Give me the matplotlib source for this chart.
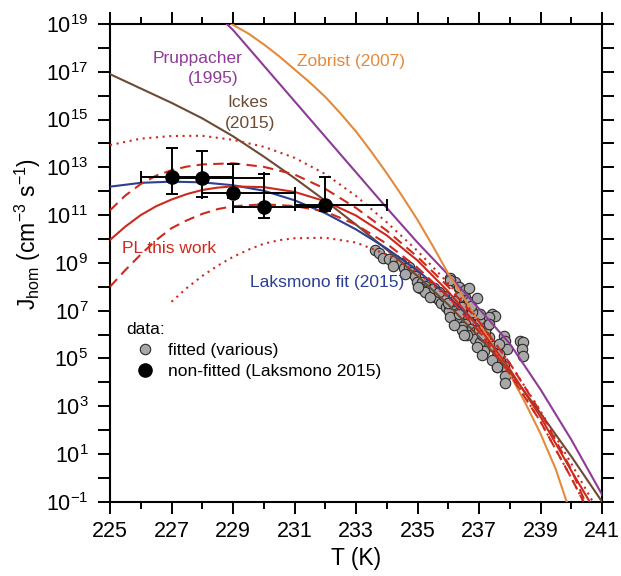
#!/usr/bin/env python3
"""
Homogeneous ice nucleation rate J_hom vs temperature:
parameterisations (Pruppacher, Zobrist, Ickes, Laksmono fit, PL this work)
together with fitted and non-fitted laboratory data.
"""

import numpy as np
import matplotlib
matplotlib.use('Agg')
import matplotlib.pyplot as plt
from matplotlib.lines import Line2D
from matplotlib.ticker import NullLocator

plt.rcParams['font.family'] = ['Liberation Sans', 'DejaVu Sans']
plt.rcParams['mathtext.fontset'] = 'custom'
plt.rcParams['mathtext.rm'] = 'Liberation Sans'
plt.rcParams['mathtext.it'] = 'Liberation Sans:italic'
plt.rcParams['mathtext.bf'] = 'Liberation Sans:bold'

# Curves: temperature (K) and log10 of J_hom (cm-3 s-1)
PRUP_T = [228.8, 229, 230, 231, 232, 233, 234, 235, 236, 237, 238, 239, 240, 241]
PRUP_LOGJ = [19.0, 18.75, 17.26, 15.77, 14.28, 12.79, 11.3, 9.85, 8.5, 7.08,
             5.62, 3.7, 1.6, -0.7]

ZOB_T = [228.95, 229.5, 230, 230.5, 231, 231.5, 232, 232.5, 233, 233.5, 234,
         234.5, 235, 235.5, 236, 236.5, 237, 237.5, 238, 238.5, 239, 239.5,
         239.85, 240.1]
ZOB_LOGJ = [19.0, 18.6, 18.15, 17.65, 17.1, 16.55, 15.95, 15.25, 14.5, 13.65,
            12.75, 11.8, 10.8, 9.7, 8.55, 7.55, 6.5, 5.43, 4.35, 3.15, 1.85,
            0.35, -1.0, -2.0]

ICKES_T = [225, 226, 227, 228, 229, 230, 231, 232, 233, 234, 235, 236, 237,
           238, 239, 240, 241]
ICKES_LOGJ = [16.9, 16.3, 15.7, 15.05, 14.3, 13.45, 12.55, 11.6, 10.6, 9.55,
              8.45, 7.25, 5.9, 4.45, 2.7, 0.9, -1.0]

LAKS_T = [225, 226, 227, 228, 229, 230, 231, 232, 233, 234, 235, 236, 237]
LAKS_LOGJ = [12.19, 12.35, 12.4, 12.37, 12.25, 12.02, 11.62, 11.08, 10.4, 9.6,
             8.68, 7.6, 6.35]

PL_T = [225, 225.5, 226, 226.5, 227, 227.5, 228, 228.5, 229, 230, 231, 232,
        233, 234, 235, 236, 237, 238, 239, 240, 240.6]
PL_LOGJ = [9.96, 10.52, 11.0, 11.37, 11.65, 11.88, 12.05, 12.15, 12.2, 12.17,
           11.97, 11.58, 10.98, 10.15, 9.1, 7.8, 6.3, 4.55, 2.55, 0.3, -1.0]

PL_DASH_HI_T = [225, 225.5, 226, 226.5, 227, 227.5, 228, 229, 230, 231, 232,
                233, 234, 235, 236, 237, 238, 239, 240, 240.45]
PL_DASH_HI_LOGJ = [11.2, 11.82, 12.3, 12.65, 12.88, 13.03, 13.12, 13.17, 13.02,
                   12.7, 12.1, 11.3, 10.35, 9.25, 8.0, 6.55, 4.8, 2.75, 0.35,
                   -1.0]

PL_DASH_LO_T = [225, 225.5, 226, 226.5, 227, 227.5, 228, 228.5, 229, 230, 231,
                232, 233, 234, 235, 236, 237, 238, 239, 240, 240.4]
PL_DASH_LO_LOGJ = [8.0, 8.7, 9.35, 9.95, 10.45, 10.78, 11.05, 11.25, 11.37,
                   11.45, 11.38, 11.15, 10.6, 9.8, 8.8, 7.58, 6.12, 4.35, 2.35,
                   0.0, -1.0]

PL_DOT_HI_T = [225, 226, 227, 228, 229, 230, 231, 232, 233, 234, 235, 236,
               237, 238, 239, 240, 240.7]
PL_DOT_HI_LOGJ = [13.93, 14.2, 14.31, 14.32, 14.15, 13.86, 13.4, 12.72, 11.8,
                  10.7, 9.5, 8.15, 6.6, 4.8, 2.8, 0.6, -1.0]

PL_DOT_LO_T = [227, 227.5, 228, 228.5, 229, 229.5, 230, 230.5, 231, 232, 233,
               234, 235, 236, 237, 238, 239, 240, 240.4]
PL_DOT_LO_LOGJ = [7.37, 7.95, 8.45, 8.88, 9.25, 9.55, 9.8, 9.95, 10.03, 10.05,
                  9.85, 9.35, 8.6, 7.55, 6.15, 4.4, 2.35, 0.0, -1.0]

# Fitted data (various sources)
FIT_T = [233.62, 233.74, 233.87, 234.07, 234.26, 234.45, 234.55, 234.72,
         234.82, 234.93, 234.98, 235.15, 235.26, 235.36, 235.47, 235.58,
         235.69, 235.78, 235.93, 235.09, 235.26, 235.42, 236.07, 236.23,
         236.34, 236.45, 236.55, 236.66, 236.34, 236.12, 236.28, 236.45,
         236.61, 236.82, 236.93, 236.01, 236.07, 236.34, 236.55, 236.66,
         236.93, 236.01, 236.17, 236.44, 236.34, 236.55, 236.71, 236.44,
         236.88, 237.04, 237.26, 237.42, 237.53, 237.31, 236.88, 237.04,
         237.15, 237.31, 237.47, 237.58, 237.69, 237.80, 237.85, 237.91,
         237.80, 237.85, 238.33, 238.44, 238.39, 238.44, 237.58, 237.64,
         237.20, 237.31, 237.04, 236.77, 236.07, 236.45, 236.61, 236.93,
         237.09, 237.42, 237.58, 237.85, 234.2, 234.6, 235.0, 235.55,
         235.85, 236.2, 236.75, 236.2, 236.5, 237.0, 237.2, 235.7,
         236.0, 236.35, 237.1, 237.65]
FIT_LOGJ = [9.54, 9.40, 9.22, 9.16, 9.12, 8.98, 8.77, 8.84,
            8.63, 8.46, 8.21, 8.21, 8.04, 7.86, 7.76, 7.58,
            7.44, 7.30, 7.16, 7.93, 7.79, 7.58, 8.35, 8.21,
            7.93, 7.72, 7.58, 7.37, 7.58, 6.81, 6.67, 6.95,
            6.67, 6.60, 6.81, 7.02, 8.28, 8.00, 7.86, 7.93,
            7.51, 7.00, 7.28, 7.14, 6.58, 6.44, 6.23, 6.30,
            6.09, 6.58, 6.37, 6.86, 6.79, 6.72, 5.81, 5.67,
            5.32, 5.88, 5.53, 5.11, 4.90, 5.95, 5.74, 5.39,
            4.69, 4.27, 5.74, 5.67, 5.39, 5.11, 4.62, 5.18,
            6.16, 6.44, 6.86, 6.93, 6.75, 6.19, 5.98, 5.49,
            5.14, 4.93, 4.65, 3.96, 8.85, 8.55, 8.0, 7.95,
            7.6, 7.4, 7.2, 6.4, 6.0, 6.2, 5.9, 7.8,
            7.3, 6.85, 6.0, 5.6]

# Non-fitted data (Laksmono 2015) with error ranges
NONFIT_T = [227, 228, 229, 230, 232]
NONFIT_LOGJ = [12.58, 12.54, 11.91, 11.35, 11.42]
NONFIT_LOGJ_HI = [13.8, 13.7, 13.13, 12.7, 12.6]
NONFIT_LOGJ_LO = [11.88, 11.74, 11.7, 10.89, 11.17]
NONFIT_T_ERR_LO = [1, 1, 1, 1, 1]
NONFIT_T_ERR_HI = [2, 2, 2, 2, 2]

PURPLE = '#8e3a98'
ORANGE = '#e48a3c'
BROWN = '#6d4a33'
RED = '#cd2a1e'
BLUE = '#2c3f93'
GREY = '#a8a8a8'

# axes box in figure pixels (left, top, right, bottom)
AX_L, AX_T, AX_R, AX_B = 110, 24, 602, 501.7


def to_j(logj):
    return 10.0 ** np.asarray(logj)


def main():
    fig = plt.figure(figsize=(6.21, 5.76), dpi=100)
    ax = fig.add_axes([AX_L / 621, 1 - AX_B / 576, (AX_R - AX_L) / 621,
                       (AX_B - AX_T) / 576])
    ax.set_yscale('log')

    # fitted data underneath the curves
    ax.plot(FIT_T, to_j(FIT_LOGJ), 'o', ms=7.5, mfc=GREY, mec='#2b2b2b',
            mew=0.8, zorder=2)

    lw = 1.5
    ax.plot(PRUP_T, to_j(PRUP_LOGJ), color=PURPLE, lw=lw, zorder=3)
    ax.plot(ZOB_T, to_j(ZOB_LOGJ), color=ORANGE, lw=lw, zorder=3)
    ax.plot(ICKES_T, to_j(ICKES_LOGJ), color=BROWN, lw=lw, zorder=3)
    ax.plot(LAKS_T, to_j(LAKS_LOGJ), color=BLUE, lw=lw, zorder=3)
    ax.plot(PL_T, to_j(PL_LOGJ), color=RED, lw=lw, zorder=3)
    ax.plot(PL_DASH_HI_T, to_j(PL_DASH_HI_LOGJ), color=RED, lw=lw,
            dashes=(5, 3), zorder=3)
    ax.plot(PL_DASH_LO_T, to_j(PL_DASH_LO_LOGJ), color=RED, lw=lw,
            dashes=(5, 3), zorder=3)
    ax.plot(PL_DOT_HI_T, to_j(PL_DOT_HI_LOGJ), color=RED, lw=lw,
            dashes=(1, 2.2), zorder=3)
    ax.plot(PL_DOT_LO_T, to_j(PL_DOT_LO_LOGJ), color=RED, lw=lw,
            dashes=(1, 2.2), zorder=3)

    # non-fitted data with error bars
    j = to_j(NONFIT_LOGJ)
    yerr = [j - to_j(NONFIT_LOGJ_LO), to_j(NONFIT_LOGJ_HI) - j]
    ax.errorbar(NONFIT_T, j, xerr=[NONFIT_T_ERR_LO, NONFIT_T_ERR_HI],
                yerr=yerr, fmt='o', ms=9.5, mfc='black', mec='black',
                ecolor='black', elinewidth=1.4, capsize=4.3, capthick=1.4,
                zorder=5)

    ax.set_xlim(225, 241)
    ax.set_ylim(1e-1, 1e19)

    ax.set_xticks(np.arange(225, 242, 2))
    ax.set_xticks(np.arange(226, 241, 2), minor=True)
    exps = np.arange(-1, 20)
    ax.set_yticks(10.0 ** exps)
    ax.set_yticklabels([f'$10^{{{e}}}$' if e % 2 else '' for e in exps])
    ax.yaxis.set_minor_locator(NullLocator())

    for side in ax.spines.values():
        side.set_linewidth(1.5)
    ax.tick_params(which='major', direction='out', length=8.6, width=1.4,
                   labelsize=15.5, top=True, right=True)
    ax.tick_params(which='minor', direction='out', length=4.7, width=1.4,
                   top=True, right=True)
    ax.tick_params(axis='x', pad=5)
    ax.tick_params(axis='y', pad=7)

    ax.set_xlabel('T (K)', fontsize=16.5, labelpad=4)
    ax.set_ylabel(r'J$_{\mathrm{hom}}$ (cm$^{-3}$ s$^{-1}$)', fontsize=16.5)
    ax.yaxis.set_label_coords(-0.136, 0.56)

    # curve annotations, placed by left edge and baseline in figure pixels
    def note(px, py, txt, color):
        ax.text((px - AX_L) / (AX_R - AX_L), 1 - (py - AX_T) / (AX_B - AX_T),
                txt, color=color, fontsize=12.5, ha='left', va='baseline',
                transform=ax.transAxes)

    note(153, 62.7, 'Pruppacher', PURPLE)
    note(188, 83, '(1995)', PURPLE)
    note(297, 66, 'Zobrist (2007)', ORANGE)
    note(227, 107.3, 'Ickes', BROWN)
    note(225, 128.3, '(2015)', BROWN)
    note(122, 253.3, 'PL this work', RED)
    note(250, 287.3, 'Laksmono fit (2015)', BLUE)

    handles = [
        Line2D([], [], marker='o', ls='none', ms=7.5, mfc=GREY, mec='#2b2b2b',
               mew=0.8),
        Line2D([], [], marker='o', ls='none', ms=9.5, mfc='black',
               mec='black'),
    ]
    ax.legend(handles, ['fitted (various)', 'non-fitted (Laksmono 2015)'],
              title='data:', loc='upper left', bbox_to_anchor=(0.034, 0.376),
              frameon=False, alignment='left', fontsize=12.5,
              title_fontsize=12.5, handlelength=2.1, handletextpad=0.29,
              borderpad=0, borderaxespad=0, labelspacing=0.34)

    fig.savefig('out.png', dpi=100)


if __name__ == '__main__':
    main()
